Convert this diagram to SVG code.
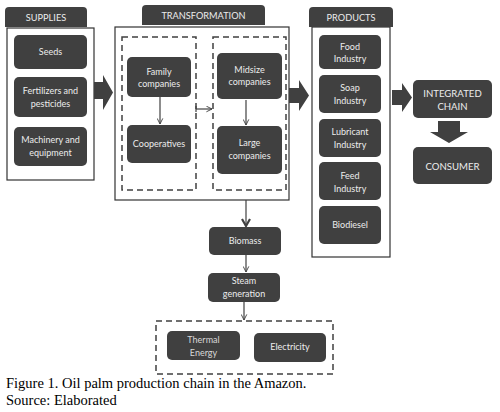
<svg xmlns="http://www.w3.org/2000/svg" width="500" height="412" viewBox="0 0 500 412">
<style>
.box{fill:#404040;}
.t{fill:#ececec;font-family:Lato,"Liberation Sans",sans-serif;font-size:9px;text-anchor:middle;}
.tt{fill:#ececec;font-family:Lato,"Liberation Sans",sans-serif;font-size:9.2px;text-anchor:middle;}
.big{fill:#ececec;font-family:Lato,"Liberation Sans",sans-serif;font-size:9.6px;text-anchor:middle;}
.frame{fill:#fff;stroke:#333;stroke-width:1.2;}
.dash{fill:none;stroke:#404040;stroke-width:1.5;stroke-dasharray:6,4;}
.ln{fill:none;stroke:#404040;stroke-width:1.2;}
.cap{fill:#000;font-family:"Liberation Serif",serif;font-size:14.5px;}
</style>
<defs>
<marker id="ah" viewBox="0 0 10 10" refX="9" refY="5" markerWidth="7" markerHeight="7" markerUnits="userSpaceOnUse" orient="auto"><path d="M1,1 L9,5 L1,9" fill="none" stroke="#404040" stroke-width="1.3"/></marker>
<marker id="ahb" viewBox="0 0 10 10" refX="8" refY="5" markerWidth="10" markerHeight="10" markerUnits="userSpaceOnUse" orient="auto"><path d="M1,1 L8,5 L1,9" fill="none" stroke="#404040" stroke-width="2.2"/></marker>
</defs>
<rect width="500" height="412" fill="#fff"/>

<g id="supplies">
<rect class="frame" x="7" y="28" width="87" height="152"/>
<path class="box" d="M5,27 V11 Q5,7 9,7 H83 Q87,7 87,11 V27 Z"/>
<text class="tt" x="46" y="21">SUPPLIES</text>
<g id="seeds"><rect class="box" x="14" y="35" width="73" height="34" rx="5"/><text class="t" x="50.5" y="55">Seeds</text></g>
<g id="fertilizers"><rect class="box" x="14" y="77" width="73" height="40" rx="5"/><text class="t" x="50.5" y="94">Fertilizers and</text><text class="t" x="50.5" y="107">pesticides</text></g>
<g id="machinery"><rect class="box" x="14" y="127" width="73" height="39" rx="5"/><text class="t" x="50.5" y="143">Machinery and</text><text class="t" x="50.5" y="156">equipment</text></g>
</g>

<g id="transformation">
<rect class="frame" x="115" y="27" width="174" height="173"/>
<path class="box" d="M142,25 V9 Q142,5 146,5 H261 Q265,5 265,9 V25 Z"/>
<text class="tt" x="203.5" y="19">TRANSFORMATION</text>
<rect class="dash" x="122" y="37" width="74" height="153"/>
<rect class="dash" x="213" y="37" width="73" height="153"/>
<g id="family"><rect class="box" x="127" y="57" width="64" height="40" rx="5"/><text class="t" x="159" y="75">Family</text><text class="t" x="159" y="87">companies</text></g>
<g id="cooperatives"><rect class="box" x="127" y="125" width="64" height="38" rx="5"/><text class="t" x="159" y="147">Cooperatives</text></g>
<g id="midsize"><rect class="box" x="217" y="53" width="65" height="46" rx="5"/><text class="t" x="249.5" y="73">Midsize</text><text class="t" x="249.5" y="85">companies</text></g>
<g id="large"><rect class="box" x="217" y="126" width="65" height="48" rx="5"/><text class="t" x="249.5" y="146">Large</text><text class="t" x="249.5" y="159">companies</text></g>
</g>

<g id="products">
<rect class="frame" x="312" y="27" width="78" height="230"/>
<path class="box" d="M309,27 V11 Q309,7 313,7 H389 Q393,7 393,11 V27 Z"/>
<text class="tt" x="351" y="21">PRODUCTS</text>
<g id="food"><rect class="box" x="319" y="35" width="62" height="34" rx="5"/><text class="t" x="350" y="50">Food</text><text class="t" x="350" y="62">Industry</text></g>
<g id="soap"><rect class="box" x="319" y="75" width="62" height="38" rx="5"/><text class="t" x="350" y="91">Soap</text><text class="t" x="350" y="104">Industry</text></g>
<g id="lubricant"><rect class="box" x="319" y="119" width="62" height="38" rx="5"/><text class="t" x="350" y="135">Lubricant</text><text class="t" x="350" y="148">Industry</text></g>
<g id="feed"><rect class="box" x="319" y="162" width="62" height="38" rx="5"/><text class="t" x="350" y="179">Feed</text><text class="t" x="350" y="192">Industry</text></g>
<g id="biodiesel"><rect class="box" x="319" y="206" width="62" height="38" rx="5"/><text class="t" x="350" y="228">Biodiesel</text></g>
</g>

<g id="integrated"><rect class="box" x="413" y="80" width="79" height="38" rx="5"/><text class="big" x="452.5" y="97">INTEGRATED</text><text class="big" x="452.5" y="110">CHAIN</text></g>
<g id="consumer"><rect class="box" x="413" y="147" width="79" height="37" rx="5"/><text class="big" x="452.5" y="169.5">CONSUMER</text></g>
<g id="biomass"><rect class="box" x="209" y="227" width="72" height="28" rx="5"/><text class="t" x="245" y="244">Biomass</text></g>
<g id="steam"><rect class="box" x="208" y="273" width="72" height="29" rx="5"/><text class="t" x="244" y="284">Steam</text><text class="t" x="244" y="297">generation</text></g>
<g id="energy">
<rect class="dash" x="156" y="321" width="177" height="53"/>
<g id="thermal"><rect class="box" x="167" y="331" width="73" height="29" rx="5"/><text class="t" x="203.5" y="343" style="fill:#d8d8d8">Thermal</text><text class="t" x="203.5" y="356" style="fill:#d8d8d8">Energy</text></g>
<g id="electricity"><rect class="box" x="254" y="333" width="72" height="29" rx="5"/><text class="t" x="290" y="350">Electricity</text></g>
</g>

<g id="connectors">
<polygon class="box" points="94,82 103,82 103,75 113,92.5 103,110 103,99 94,99"/>
<polygon class="box" points="289,88 299,88 299,80 309,95.5 299,111 299,103 289,103"/>
<polygon class="box" points="392,90 402,90 402,83 412,97.5 402,112 402,105 392,105"/>
<polygon class="box" points="438,121 460,121 460,132 468,132 449,143 430,132 438,132"/>
<line class="ln" x1="160" y1="97" x2="160" y2="124" marker-end="url(#ah)"/>
<line class="ln" x1="246" y1="100" x2="246" y2="125" marker-end="url(#ah)"/>
<line class="ln" x1="196" y1="109" x2="212" y2="109" marker-end="url(#ah)"/>
<line class="ln" x1="196" y1="106" x2="196" y2="112"/>
<line class="ln" x1="246" y1="200" x2="246" y2="226" stroke-width="2.5" marker-end="url(#ahb)"/>
<line class="ln" x1="246" y1="255" x2="246" y2="272" marker-end="url(#ah)"/>
<line class="ln" x1="244" y1="302" x2="244" y2="320" marker-end="url(#ah)"/>
</g>

<text class="cap" x="6" y="388">Figure 1. Oil palm production chain in the Amazon.</text>
<text class="cap" x="6" y="405">Source: Elaborated</text>
</svg>
